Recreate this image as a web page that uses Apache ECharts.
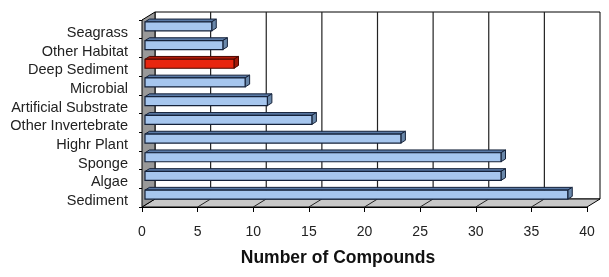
<!DOCTYPE html>
<html>
<head>
<meta charset="utf-8">
<script src="https://cdn.jsdelivr.net/npm/echarts@6/dist/echarts.min.js"></script>
<style>
  html, body { margin: 0; padding: 0; background: #fff; }
  #chart { width: 609px; height: 277px; }
</style>
</head>
<body>
<div id="chart"></div>
<script>
// categories bottom -> top
var habitats = ['Sediment', 'Algae', 'Sponge', 'Highr Plant', 'Other Invertebrate',
  'Artificial Substrate', 'Microbial', 'Deep Sediment', 'Other Habitat', 'Seagrass'];
var compounds = [38, 32, 32, 23, 15, 11, 9, 8, 7, 6];
var highlight = 'Deep Sediment';
var xTicks = [0, 5, 10, 15, 20, 25, 30, 35, 40];

var myChart = echarts.init(document.getElementById('chart'));

// oblique depth of the box and of each bar
var DX = 13, DY = -8;
var barOff = [3, -3], barDepth = [4.5, -2.8];

function frameItem(params, api) {
  var p0 = api.coord([0, 0]);
  var band = api.size([0, 1])[1];
  var x0 = p0[0];
  var x1 = api.coord([xTicks[xTicks.length - 1], 0])[0];
  var yBot = p0[1] + band / 2;
  var yTop = api.coord([0, habitats.length - 1])[1] - band / 2;
  var kids = [];
  // back wall
  kids.push({ type: 'polygon', shape: { points: [[x0 + DX, yTop + DY], [x1 + DX, yTop + DY], [x1 + DX, yBot + DY], [x0 + DX, yBot + DY]] },
    style: { fill: '#fff', stroke: '#000', lineWidth: 1 } });
  // floor
  kids.push({ type: 'polygon', shape: { points: [[x0, yBot], [x0 + DX, yBot + DY], [x1 + DX, yBot + DY], [x1, yBot]] },
    style: { fill: '#c8c8c8', stroke: '#000', lineWidth: 1 } });
  // left wall
  kids.push({ type: 'polygon', shape: { points: [[x0, yTop], [x0 + DX, yTop + DY], [x0 + DX, yBot + DY], [x0, yBot]] },
    style: { fill: '#999', stroke: '#000', lineWidth: 1 } });
  for (var i = 1; i < xTicks.length - 1; i++) {
    var x = api.coord([xTicks[i], 0])[0];
    kids.push({ type: 'line', shape: { x1: x + DX, y1: yTop + DY, x2: x + DX, y2: yBot + DY }, style: { stroke: '#222', lineWidth: 1.2 } });
    kids.push({ type: 'line', shape: { x1: x, y1: yBot, x2: x + DX, y2: yBot + DY }, style: { stroke: '#222', lineWidth: 1 } });
  }
  return { type: 'group', children: kids };
}

function barItem(params, api) {
  var idx = api.value(1);
  var start = api.coord([0, idx]);
  var end = api.coord([api.value(0), idx]);
  var h = 9;
  var red = habitats[idx] === highlight;
  var front = red ? '#e8260f' : '#a6c6ee';
  var top = red ? '#b01a08' : '#5a7aa6';
  var side = red ? '#a01808' : '#6a88aa';
  var edge = red ? '#4a0800' : '#15223a';
  var xa = start[0] + barOff[0], xb = end[0] + barOff[0];
  var ya = start[1] + barOff[1] - h / 2, yb = ya + h;
  var ex = barDepth[0], ey = barDepth[1];
  return { type: 'group', children: [
    { type: 'polygon', shape: { points: [[xa, ya], [xa + ex, ya + ey], [xb + ex, ya + ey], [xb, ya]] },
      style: { fill: top, stroke: edge, lineWidth: 1 } },
    { type: 'polygon', shape: { points: [[xb, ya], [xb + ex, ya + ey], [xb + ex, yb + ey], [xb, yb]] },
      style: { fill: side, stroke: edge, lineWidth: 1 } },
    { type: 'rect', shape: { x: xa, y: ya, width: xb - xa, height: h },
      style: { fill: front, stroke: edge, lineWidth: 1.2 } }
  ] };
}

var barData = [];
for (var i = 0; i < habitats.length; i++) {
  barData.push([compounds[i], i]);
}

var option = {
  animation: false,
  textStyle: { fontFamily: 'Arial, "Liberation Sans", sans-serif' },
  grid: { left: 142, top: 20, width: 445, height: 187, containLabel: false },
  xAxis: {
    type: 'value', min: 0, max: 40, interval: 5,
    splitLine: { show: false },
    axisLine: { show: true, lineStyle: { color: '#000', width: 1 } },
    axisTick: { show: true, length: 5, lineStyle: { color: '#000' } },
    axisLabel: { color: '#222', fontSize: 14, margin: 18 },
    name: 'Number of Compounds',
    nameLocation: 'middle',
    nameGap: 42,
    nameTextStyle: { color: '#111', fontSize: 17.5, fontWeight: 'bold', padding: [0, 53, 0, 0] }
  },
  yAxis: {
    type: 'category', data: habitats,
    axisLine: { show: true, lineStyle: { color: '#000', width: 1 } },
    axisTick: { show: true, length: 3, lineStyle: { color: '#000' } },
    axisLabel: { color: '#222', fontSize: 14.5, margin: 14, interval: 0, hideOverlap: false, verticalAlign: 'top', lineHeight: 7 }
  },
  series: [
    { type: 'custom', name: 'frame', renderItem: frameItem, data: [[0, 0]], clip: false, silent: true, z: 1 },
    { type: 'custom', name: 'compounds', renderItem: barItem, data: barData, encode: { x: 0, y: 1 }, clip: false, z: 2 }
  ]
};

myChart.setOption(option);
</script>
</body>
</html>
